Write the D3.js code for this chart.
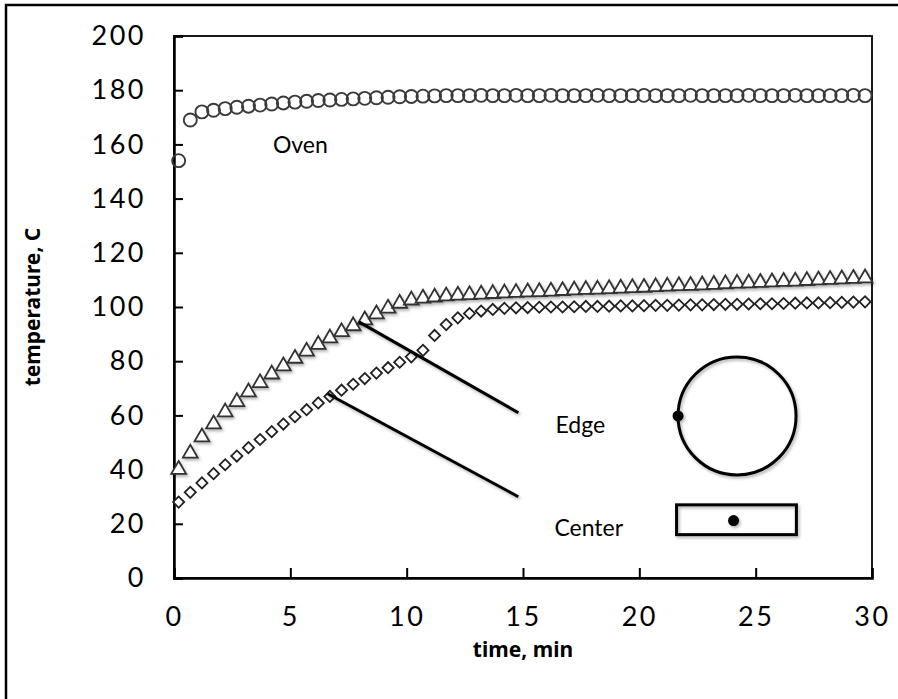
<!DOCTYPE html>
<html>
<head>
<meta charset="utf-8">
<script src="https://cdn.jsdelivr.net/npm/d3@7"></script>
<style>
  body { margin: 0; background: #fff; }
  svg { display: block; }
  text { font-family: Lato, "Noto Sans", sans-serif; fill: #000; }
</style>
</head>
<body>
<svg id="chart" width="898" height="699"></svg>
<script>
// time stamps, min
var times = [0.2, 0.7, 1.2, 1.7, 2.2, 2.7, 3.2, 3.7, 4.2, 4.7,
             5.2, 5.7, 6.2, 6.7, 7.2, 7.7, 8.2, 8.7, 9.2, 9.7,
             10.2, 10.7, 11.2, 11.7, 12.2, 12.7, 13.2, 13.7, 14.2, 14.7,
             15.2, 15.7, 16.2, 16.7, 17.2, 17.7, 18.2, 18.7, 19.2, 19.7,
             20.2, 20.7, 21.2, 21.7, 22.2, 22.7, 23.2, 23.7, 24.2, 24.7,
             25.2, 25.7, 26.2, 26.7, 27.2, 27.7, 28.2, 28.7, 29.2, 29.7];

var oven = [154, 169, 172, 172.6, 173.2, 173.7, 174.1, 174.5, 174.9, 175.3,
            175.6, 175.9, 176.2, 176.4, 176.6, 176.8, 177, 177.2, 177.4, 177.6,
            177.7, 177.8, 177.9, 178, 178, 178, 178.1, 178, 178, 178.1,
            178, 178, 178.1, 178, 178, 178, 178.1, 178, 178, 178,
            178.1, 178, 178, 178, 178.1, 178, 178, 178, 178, 178.1,
            178, 178, 178, 178.1, 178, 178, 178, 178, 178.1, 178];

var edge = [40, 46, 52, 56.8, 61.2, 65, 68.6, 72, 75.2, 78.2,
            81, 83.6, 86.1, 88.5, 90.8, 93, 95.2, 97.4, 99.5, 101.3,
            102.5, 103.2, 103.6, 104, 104.3, 104.5, 104.7, 104.9, 105.1, 105.3,
            105.5, 105.6, 105.8, 106, 106.2, 106.4, 106.5, 106.7, 106.9, 107.1,
            107.2, 107.4, 107.6, 107.8, 107.9, 108.1, 108.3, 108.5, 108.7, 108.8,
            109, 109.2, 109.4, 109.5, 109.7, 109.9, 110.1, 110.3, 110.5, 110.7];

var center = [28, 31.6, 35.1, 38.5, 41.8, 45, 48.1, 51.1, 54, 56.8,
              59.5, 62.1, 64.6, 67, 69.3, 71.5, 73.6, 75.6, 77.6, 79.6,
              81.6, 84, 89.5, 93.5, 96, 97.6, 98.5, 99.1, 99.5, 99.7,
              99.8, 99.9, 100, 100, 100.1, 100.2, 100.2, 100.3, 100.4, 100.4,
              100.5, 100.6, 100.6, 100.7, 100.8, 100.8, 100.9, 101, 101, 101.1,
              101.2, 101.2, 101.3, 101.4, 101.5, 101.5, 101.6, 101.7, 101.8, 101.9];

var xTicks = [0, 5, 10, 15, 20, 25, 30];
var yTicks = [0, 20, 40, 60, 80, 100, 120, 140, 160, 180, 200];

// annotation labels and pointer lines, in data units
var labels = [
    {text: "Oven",   t: 4.25, T: 157},
    {text: "Edge",   t: 16.4, T: 53.5},
    {text: "Center", t: 16.35, T: 15.5}
];
var pointers = [
    {t1: 7.95, T1: 94.5, t2: 14.8, T2: 61},
    {t1: 6.6,  T1: 68,   t2: 14.8, T2: 30}
];

var svg = d3.select("#chart");

var mLeft = 174, mTop = 36, mRight = 872, mBottom = 578;

var x = d3.scaleLinear().domain([0, 30]).range([mLeft, mRight]);
var y = d3.scaleLinear().domain([0, 200]).range([mBottom, mTop]);

var defs = svg.append("defs");
var shadow = defs.append("filter").attr("id", "shadow")
    .attr("x", "-20%").attr("y", "-20%").attr("width", "140%").attr("height", "140%");
shadow.append("feDropShadow")
    .attr("dx", 1.5).attr("dy", 2).attr("stdDeviation", 1.5)
    .attr("flood-color", "#000").attr("flood-opacity", 0.3);

// outer frame
svg.append("rect")
    .attr("x", 6).attr("y", 5)
    .attr("width", 905).attr("height", 710)
    .attr("fill", "none").attr("stroke", "#000").attr("stroke-width", 2.5);

// plot frame
svg.append("rect")
    .attr("x", mLeft).attr("y", mTop)
    .attr("width", mRight - mLeft).attr("height", mBottom - mTop)
    .attr("fill", "none").attr("stroke", "#000").attr("stroke-width", 1.8);

var yAxis = svg.append("g")
    .attr("transform", `translate(${mLeft},0)`)
    .call(d3.axisRight(y).tickValues(yTicks).tickSize(9).tickFormat(d3.format("d")));
yAxis.select(".domain").attr("stroke-width", 2.5);
yAxis.selectAll(".tick line").attr("stroke-width", 2);
yAxis.selectAll(".tick text")
    .attr("x", -28).attr("text-anchor", "end")
    .attr("font-size", 27).style("letter-spacing", "2.5px");

var xAxis = svg.append("g")
    .attr("transform", `translate(0,${mBottom})`)
    .call(d3.axisTop(x).tickValues(xTicks).tickSize(10).tickFormat(d3.format("d")));
xAxis.select(".domain").attr("stroke-width", 2.5);
xAxis.selectAll(".tick line").attr("stroke-width", 2);
xAxis.selectAll(".tick text")
    .attr("y", 39).attr("dy", "0.35em")
    .attr("font-size", 27).style("letter-spacing", "2.5px");

svg.selectAll(".domain").attr("stroke", "#000");
svg.selectAll(".tick text").attr("fill", "#000").style("font-family", "Lato, 'Noto Sans', sans-serif");

// axis titles
svg.append("text")
    .attr("x", (mLeft + mRight) / 2).attr("y", 657)
    .attr("text-anchor", "middle")
    .style("font-family", "'Noto Sans', sans-serif")
    .attr("font-size", 21).attr("font-weight", "bold")
    .text("time, min");

svg.append("text")
    .attr("transform", `translate(40,${(mTop + mBottom) / 2}) rotate(-90)`)
    .attr("text-anchor", "middle")
    .style("font-family", "'Noto Sans', sans-serif")
    .attr("font-size", 21).attr("font-weight", "bold")
    .text("temperature, C");

var pts = function (vals) { return times.map((t, i) => ({t: t, T: vals[i]})); };

// Oven - open circles
svg.append("g").selectAll("circle")
    .data(pts(oven))
    .join("circle")
    .attr("cx", d => x(d.t)).attr("cy", d => y(d.T))
    .attr("r", 6.5)
    .attr("fill", "none").attr("stroke", "#3a3a3a").attr("stroke-width", 1.9);

// Edge - open triangles
var tri = d3.symbol().type(d3.symbolTriangle).size(95);
svg.append("g").attr("filter", "url(#shadow)").selectAll("path")
    .data(pts(edge))
    .join("path")
    .attr("d", tri)
    .attr("transform", d => `translate(${x(d.t)},${y(d.T)})`)
    .attr("fill", "#fff").attr("stroke", "#333").attr("stroke-width", 1.8);

// Center - open diamonds
var sq = d3.symbol().type(d3.symbolSquare).size(62);
svg.append("g").selectAll("path")
    .data(pts(center))
    .join("path")
    .attr("d", sq)
    .attr("transform", d => `translate(${x(d.t)},${y(d.T)}) rotate(45)`)
    .attr("fill", "#fff").attr("stroke", "#222").attr("stroke-width", 1.8);

// pointer lines
svg.append("g").attr("filter", "url(#shadow)").selectAll("line")
    .data(pointers)
    .join("line")
    .attr("x1", d => x(d.t1)).attr("y1", d => y(d.T1))
    .attr("x2", d => x(d.t2)).attr("y2", d => y(d.T2))
    .attr("stroke", "#000").attr("stroke-width", 3);

svg.append("g").selectAll("text")
    .data(labels)
    .join("text")
    .attr("x", d => x(d.t)).attr("y", d => y(d.T))
    .attr("font-size", 23)
    .text(d => d.text);

// sample shapes: cylinder cross-section and slab, each with its probe
var shapes = svg.append("g").attr("filter", "url(#shadow)");
shapes.append("circle")
    .attr("cx", x(24.2)).attr("cy", y(59.8)).attr("r", 59)
    .attr("fill", "none").attr("stroke", "#000").attr("stroke-width", 3);
shapes.append("circle")
    .attr("cx", x(24.2) - 59).attr("cy", y(59.8)).attr("r", 5.5)
    .attr("fill", "#000");
shapes.append("rect")
    .attr("x", x(21.6)).attr("y", y(27))
    .attr("width", x(26.75) - x(21.6)).attr("height", y(16) - y(27))
    .attr("fill", "none").attr("stroke", "#000").attr("stroke-width", 3);
shapes.append("circle")
    .attr("cx", x(24.05)).attr("cy", y(21.2)).attr("r", 5.5)
    .attr("fill", "#000");
</script>
</body>
</html>
